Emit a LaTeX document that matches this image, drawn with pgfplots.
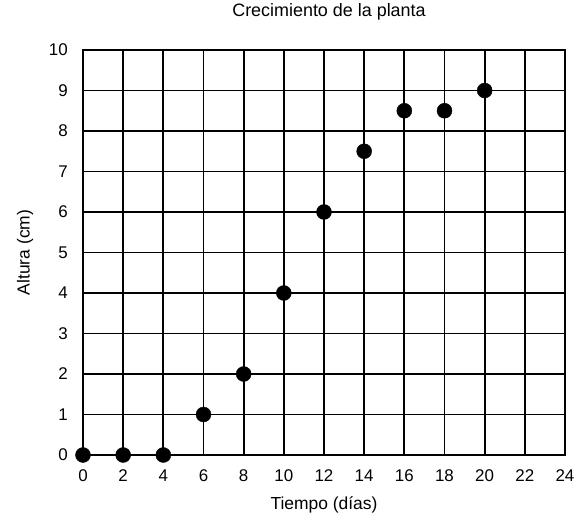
\documentclass[border=0pt]{standalone}
\usepackage{pgfplots}
\pgfplotsset{compat=1.18}
\usepackage{fontspec}
\setmainfont{Liberation Sans}
\begin{document}
\begin{tikzpicture}
\useasboundingbox (-83bp,-61bp) rectangle (493bp,455bp);
\begin{axis}[
  at={(0,0)}, anchor=south west,
  scale only axis,
  width=482bp, height=405bp,
  xmin=0, xmax=24, ymin=0, ymax=10,
  xtick={0,2,...,24}, ytick={0,1,...,10},
  grid=major,
  grid style={black, line width=1.8bp},
  axis line style={black, line width=1.8bp},
  major tick length=0pt,
  tick label style={font=\fontsize{17}{19}\selectfont, inner sep=0pt},
  /pgf/number format/assume math mode=true,
  xticklabel style={anchor=center, yshift=-21bp},
  yticklabel style={anchor=east, xshift=-15bp},
  xlabel={Tiempo (días)},
  ylabel={Altura (cm)},
  xlabel style={font=\fontsize{17.5}{19}\selectfont, at={(axis description cs:0.5,0)}, anchor=center, yshift=-50bp},
  ylabel style={font=\fontsize{17.5}{19}\selectfont, at={(axis description cs:-0.12,0.5)}, anchor=center},
  title={Crecimiento de la planta},
  title style={font=\fontsize{18}{20}\selectfont, at={(axis description cs:0.5,1)}, anchor=center, yshift=32bp, xshift=5bp},
  clip=false,
]
\addplot[only marks, mark=*, mark size=7.5bp, black] coordinates {
  (0,0) (2,0) (4,0) (6,1) (8,2) (10,4) (12,6) (14,7.5) (16,8.5) (18,8.5) (20,9)
};
\end{axis}
\end{tikzpicture}
\end{document}
